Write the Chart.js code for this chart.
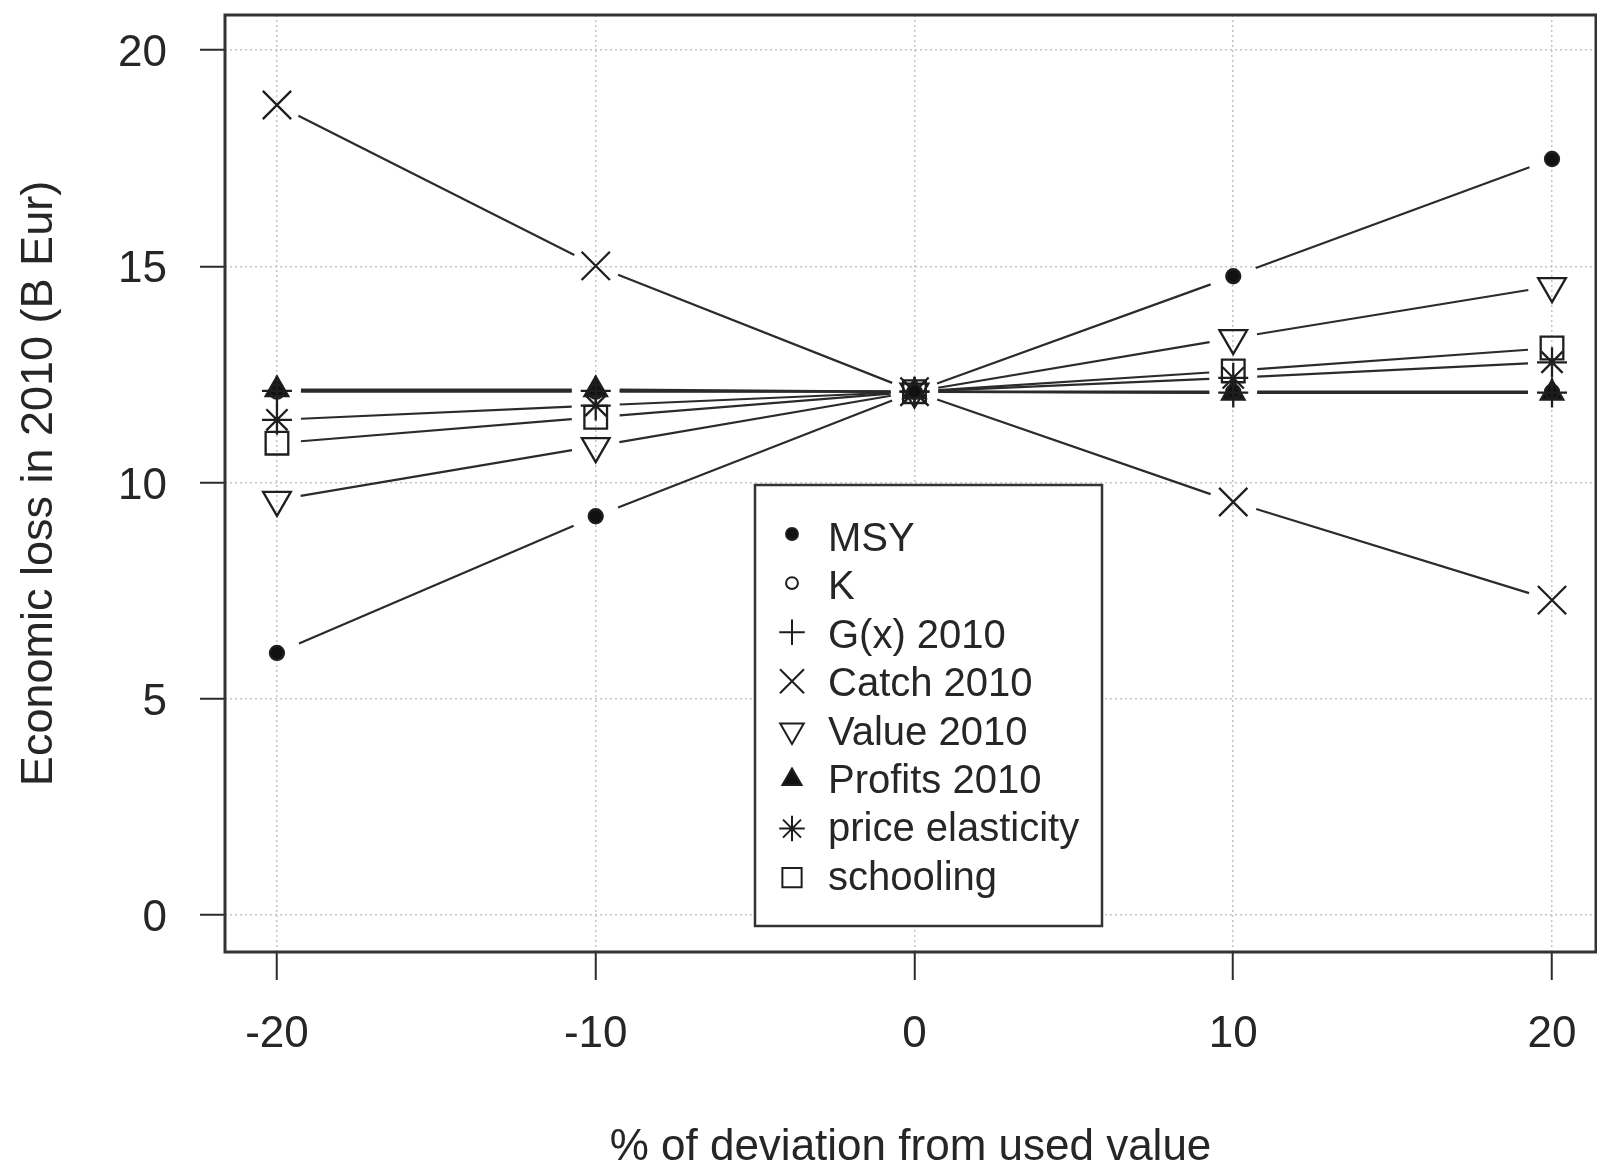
<!DOCTYPE html>
<html>
<head>
<meta charset="utf-8">
<title>Economic loss sensitivity</title>
<script src="https://cdn.jsdelivr.net/npm/chart.js@4.4.1/dist/chart.umd.min.js"></script>
<style>
    html, body { margin: 0; padding: 0; background: #fff; }
    #wrap { width: 1597px; height: 1170px; }
</style>
</head>
<body>
<div id="wrap"><canvas id="lossChart" width="1597" height="1170"></canvas></div>
<script>
// % deviation from the used value
const deviations = [-20, -10, 0, 10, 20];

// economic loss in 2010 (B Eur), one array per parameter
const msy = [6.06, 9.22, 12.1, 14.77, 17.48];
const kValues = [12.1, 12.1, 12.1, 12.1, 12.1];
const growth2010 = [12.12, 12.12, 12.1, 12.08, 12.08];
const catch2010 = [18.73, 15.01, 12.1, 9.55, 7.28];
const value2010 = [9.6, 10.84, 12.1, 13.34, 14.54];
const profits2010 = [12.15, 12.15, 12.1, 12.07, 12.07];
const priceElasticity = [11.45, 11.78, 12.1, 12.42, 12.78];
const schooling = [10.91, 11.51, 12.1, 12.58, 13.11];

const seriesNames = ['MSY', 'K', 'G(x) 2010', 'Catch 2010', 'Value 2010',
    'Profits 2010', 'price elasticity', 'schooling'];
const seriesValues = [msy, kValues, growth2010, catch2010, value2010,
    profits2010, priceElasticity, schooling];

const xTicks = [-20, -10, 0, 10, 20];
const yTicks = [0, 5, 10, 15, 20];

// marker look for each series (R pch 16, 1, 3, 4, 6, 17, 8, 0)
const markers = [
    { style: 'circle', radius: 7, fill: true, rotation: 0 },
    { style: 'circle', radius: 7, fill: false, rotation: 0 },
    { style: 'cross', radius: 15, fill: false, rotation: 0 },
    { style: 'crossRot', radius: 20, fill: false, rotation: 0 },
    { style: 'triangle', radius: 16, fill: false, rotation: 180 },
    { style: 'triangle', radius: 13, fill: true, rotation: 0 },
    { style: 'star', radius: 15, fill: false, rotation: 0 },
    { style: 'rect', radius: 16, fill: false, rotation: 0 }
];

const FONT = '"Liberation Sans", Arial, Helvetica, sans-serif';
const INK = '#262626';
const GAP = 24; // R type="b": lines stop short of the points

const datasets = seriesNames.map((name, i) => ({
    label: name,
    data: deviations.map((d, k) => ({ x: d, y: seriesValues[i][k] })),
    showLine: false,
    pointStyle: markers[i].style,
    pointRadius: markers[i].radius,
    pointHoverRadius: markers[i].radius,
    pointRotation: markers[i].rotation,
    pointBorderWidth: 2.3,
    pointBorderColor: '#1e1e1e',
    pointBackgroundColor: markers[i].fill ? '#111' : 'rgba(0,0,0,0)'
}));

const gapLines = {
    id: 'gapLines',
    beforeDatasetsDraw(chart) {
        const ctx = chart.ctx;
        ctx.save();
        ctx.strokeStyle = '#2b2b2b';
        ctx.lineWidth = 2.2;
        chart.data.datasets.forEach((ds, i) => {
            const pts = chart.getDatasetMeta(i).data;
            for (let k = 0; k < pts.length - 1; k++) {
                const a = pts[k], b = pts[k + 1];
                const dx = b.x - a.x, dy = b.y - a.y;
                const len = Math.hypot(dx, dy);
                if (len <= 2 * GAP) continue;
                const ux = dx / len, uy = dy / len;
                ctx.beginPath();
                ctx.moveTo(a.x + ux * GAP, a.y + uy * GAP);
                ctx.lineTo(b.x - ux * GAP, b.y - uy * GAP);
                ctx.stroke();
            }
        });
        ctx.restore();
    }
};

// tick labels drawn at the scales' own pixel positions (R style)
const tickLabels = {
    id: 'tickLabels',
    afterDraw(chart) {
        const ctx = chart.ctx;
        const xs = chart.scales.x, ys = chart.scales.y;
        ctx.save();
        ctx.font = '44px ' + FONT;
        ctx.fillStyle = INK;
        ctx.textBaseline = 'middle';
        ctx.textAlign = 'center';
        xTicks.forEach(v => ctx.fillText(String(v), xs.getPixelForValue(v), 1035));
        ctx.textAlign = 'right';
        yTicks.forEach(v => ctx.fillText(String(v), 167, ys.getPixelForValue(v) + 4));
        ctx.restore();
    }
};

const frameAndLegend = {
    id: 'frameAndLegend',
    afterDraw(chart) {
        const ctx = chart.ctx;
        const area = chart.chartArea;
        ctx.save();

        // plot box
        ctx.strokeStyle = '#333';
        ctx.lineWidth = 3;
        ctx.strokeRect(area.left, area.top, area.right - area.left, area.bottom - area.top);

        // legend box
        const lx = 755, ly = 485, lw = 347, lh = 441;
        ctx.fillStyle = '#fff';
        ctx.fillRect(lx, ly, lw, lh);
        ctx.lineWidth = 2.5;
        ctx.strokeRect(lx, ly, lw, lh);

        ctx.font = '40px ' + FONT;
        ctx.textAlign = 'left';
        ctx.textBaseline = 'alphabetic';
        chart.data.datasets.forEach((ds, i) => {
            const sy = 534 + 49.1 * i;
            const m = markers[i];
            ctx.strokeStyle = '#1e1e1e';
            ctx.fillStyle = m.fill ? '#111' : 'rgba(0,0,0,0)';
            ctx.lineWidth = 2;
            Chart.helpers.drawPoint(ctx, {
                pointStyle: m.style,
                rotation: m.rotation,
                radius: m.radius * 0.85,
                borderWidth: 2
            }, 792, sy);
            ctx.fillStyle = INK;
            ctx.fillText(ds.label, 828, 551 + 48.4 * i);
        });
        ctx.restore();
    }
};

new Chart(document.getElementById('lossChart'), {
    type: 'scatter',
    data: { datasets: datasets },
    options: {
        responsive: false,
        animation: false,
        events: [],
        layout: { autoPadding: false, padding: { top: 15, left: 0, right: 1, bottom: 0 } },
        plugins: {
            legend: { display: false },
            tooltip: { enabled: false }
        },
        scales: {
            x: {
                type: 'linear',
                min: -21.63,
                max: 21.38,
                afterBuildTicks: s => { s.ticks = xTicks.map(v => ({ value: v })); },
                afterFit: s => { s.height = 218; },
                grid: {
                    color: '#c4c4c4', lineWidth: 1.5, borderDash: [2, 3],
                    tickColor: '#2b2b2b', tickWidth: 2, tickLength: 28, tickBorderDash: []
                },
                border: { display: false, dash: [2, 3] },
                ticks: { display: false },
                title: {
                    display: true, text: '% of deviation from used value',
                    font: { family: FONT, size: 44, lineHeight: 1 }, color: INK,
                    padding: { top: 0, bottom: 0 }
                }
            },
            y: {
                type: 'linear',
                min: -0.855,
                max: 20.81,
                afterBuildTicks: s => { s.ticks = yTicks.map(v => ({ value: v })); },
                afterFit: s => { s.width = 225; },
                grid: {
                    color: '#c4c4c4', lineWidth: 1.5, borderDash: [2, 3],
                    tickColor: '#2b2b2b', tickWidth: 2, tickLength: 25, tickBorderDash: []
                },
                border: { display: false, dash: [2, 3] },
                ticks: { display: false },
                title: {
                    display: true, text: 'Economic loss in 2010 (B Eur)',
                    font: { family: FONT, size: 45, lineHeight: 1 }, color: INK,
                    padding: { top: 17, bottom: 0 }
                }
            }
        }
    },
    plugins: [gapLines, tickLabels, frameAndLegend]
});
</script>
</body>
</html>
